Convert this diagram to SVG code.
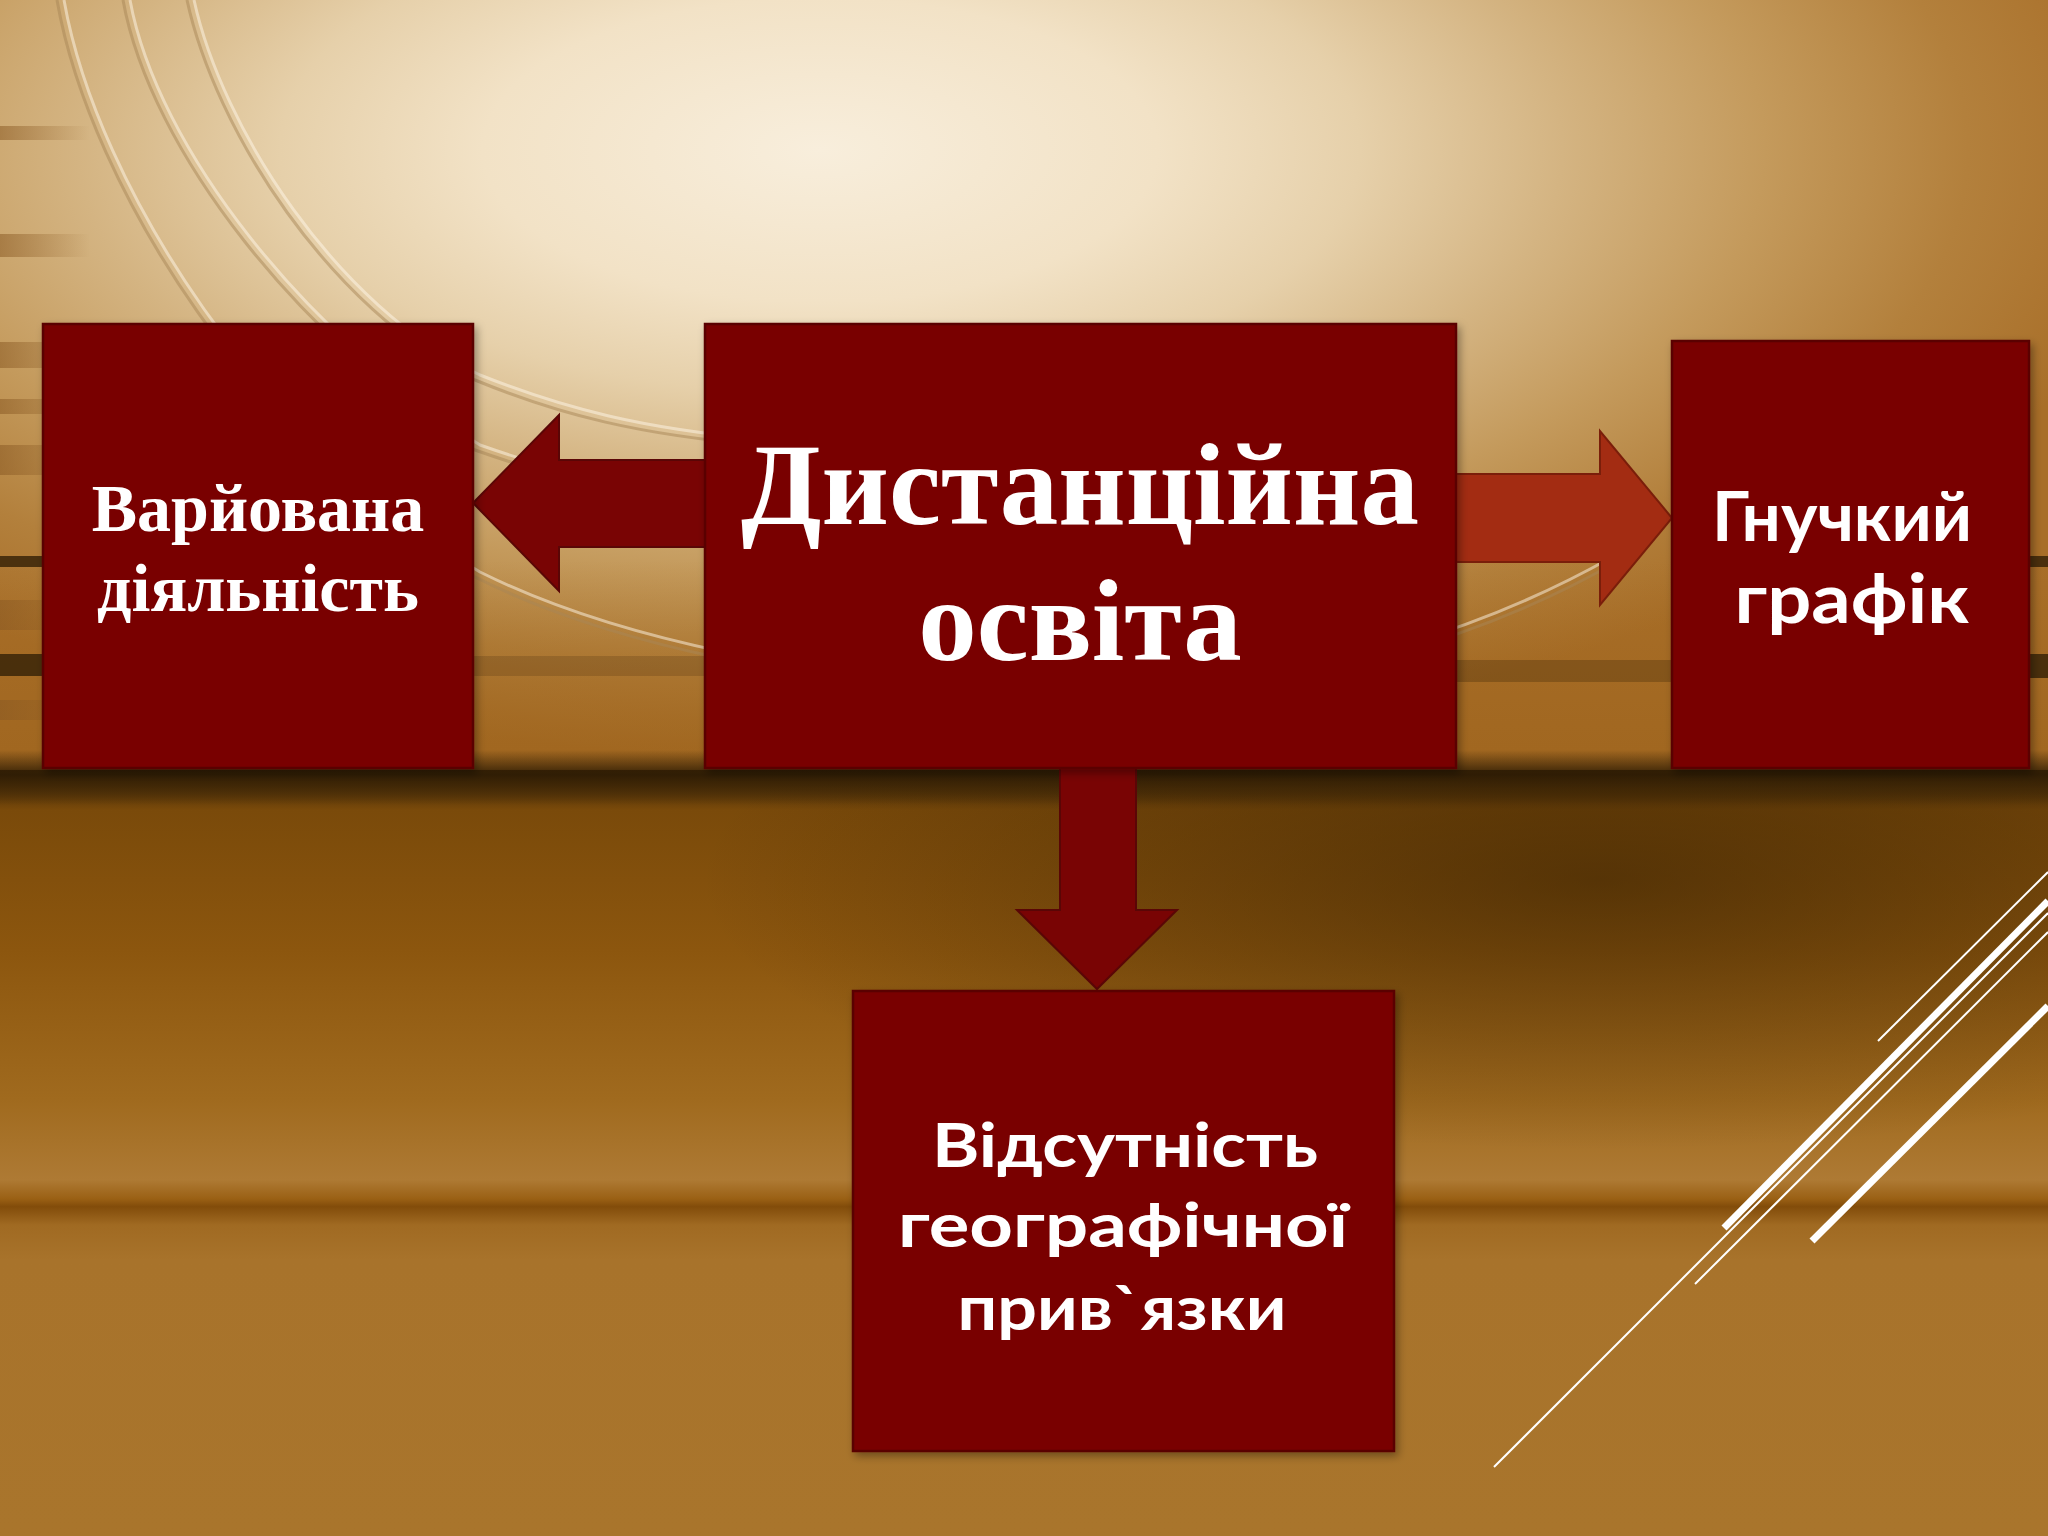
<svg xmlns="http://www.w3.org/2000/svg" width="2048" height="1536" viewBox="0 0 2048 1536">
<defs>
<style>
.box{fill:#790404;stroke:#5a0606;stroke-width:2.5}
.arrowDark{fill:#790404;stroke:#5a0606;stroke-width:2}
.arrowLight{fill:#a32c12;stroke:#7a1e0a;stroke-width:2}
.serif{font-family:"Liberation Serif","Times New Roman",serif;font-weight:700;fill:#ffffff;text-anchor:middle}
.sans{font-family:"Lato","Open Sans","Liberation Sans",sans-serif;font-weight:700;fill:#ffffff;text-anchor:middle}
.groove{fill:none;stroke:#a88656;stroke-width:3;stroke-opacity:0.5}
.grooveLight{fill:none;stroke:#fff8ea;stroke-width:3;stroke-opacity:0.5}
.deco{stroke:#ffffff;stroke-linecap:butt}
.edge{fill:#3a2408}
</style>
<radialGradient id="topGrad" gradientUnits="userSpaceOnUse" cx="820" cy="150" r="1350" gradientTransform="translate(820 150) scale(1 0.45) translate(-820 -150)">
<stop offset="0" stop-color="#f8eedc"/>
<stop offset="0.25" stop-color="#f2e2c6"/>
<stop offset="0.4" stop-color="#e6d0aa"/>
<stop offset="0.55" stop-color="#d4b482"/>
<stop offset="0.7" stop-color="#c49a5c"/>
<stop offset="0.85" stop-color="#b3803c"/>
<stop offset="1" stop-color="#a86e28"/>
</radialGradient>
<linearGradient id="botGrad" gradientUnits="userSpaceOnUse" x1="0" y1="770" x2="0" y2="1536">
<stop offset="0" stop-color="#3e2606"/>
<stop offset="0.02" stop-color="#4a2e08"/>
<stop offset="0.052" stop-color="#7a4a0a"/>
<stop offset="0.235" stop-color="#8c560e"/>
<stop offset="0.43" stop-color="#a06a1e"/>
<stop offset="0.535" stop-color="#ae7a34"/>
<stop offset="0.56" stop-color="#9a6014"/>
<stop offset="0.57" stop-color="#824c0a"/>
<stop offset="0.594" stop-color="#a06a22"/>
<stop offset="0.64" stop-color="#a8732b"/>
<stop offset="1" stop-color="#a9752c"/>
</linearGradient>
<radialGradient id="darkRight" gradientUnits="userSpaceOnUse" cx="1600" cy="880" r="900" gradientTransform="translate(1600 880) scale(1 0.3) translate(-1600 -880)">
<stop offset="0" stop-color="#2a1800" stop-opacity="0.5"/>
<stop offset="1" stop-color="#2a1800" stop-opacity="0"/>
</radialGradient>
<linearGradient id="band" gradientUnits="userSpaceOnUse" x1="0" y1="750" x2="0" y2="805">
<stop offset="0" stop-color="#2e1c04" stop-opacity="0"/>
<stop offset="0.45" stop-color="#2e1c04" stop-opacity="0.9"/>
<stop offset="0.7" stop-color="#3e2606" stop-opacity="0.6"/>
<stop offset="1" stop-color="#3e2606" stop-opacity="0"/>
</linearGradient>
<linearGradient id="leftFade" gradientUnits="userSpaceOnUse" x1="0" y1="0" x2="90" y2="0">
<stop offset="0" stop-color="#8a5a24" stop-opacity="0.55"/>
<stop offset="1" stop-color="#8a5a24" stop-opacity="0"/>
</linearGradient>
<linearGradient id="lowerWarm" gradientUnits="userSpaceOnUse" x1="0" y1="560" x2="0" y2="770">
<stop offset="0" stop-color="#9a6018" stop-opacity="0"/>
<stop offset="1" stop-color="#9a6018" stop-opacity="0.55"/>
</linearGradient>
<filter id="shadow" x="-5%" y="-5%" width="115%" height="115%">
<feDropShadow dx="3" dy="4" stdDeviation="4" flood-color="#000000" flood-opacity="0.35"/>
</filter>
</defs>

<g id="background">
<rect x="0" y="0" width="2048" height="780" fill="url(#topGrad)"/>
<rect x="0" y="560" width="2048" height="215" fill="url(#lowerWarm)"/>
<rect x="0" y="770" width="2048" height="766" fill="url(#botGrad)"/>
<rect x="0" y="770" width="2048" height="500" fill="url(#darkRight)"/>
<g id="wood-stripes">
<rect x="0" y="126" width="90" height="14" fill="url(#leftFade)"/>
<rect x="0" y="234" width="90" height="23" fill="url(#leftFade)"/>
<rect x="0" y="342" width="90" height="26" fill="url(#leftFade)"/>
<rect x="0" y="399" width="90" height="15" fill="url(#leftFade)"/>
<rect x="0" y="445" width="90" height="30" fill="url(#leftFade)"/>
<rect x="0" y="600" width="90" height="30" fill="url(#leftFade)"/>
<rect x="0" y="700" width="90" height="20" fill="url(#leftFade)"/>
<rect class="edge" x="0" y="556" width="46" height="11" opacity="0.85"/>
<rect class="edge" x="0" y="654" width="46" height="22" opacity="0.85"/>
<rect class="edge" x="2026" y="556" width="22" height="11" opacity="0.85"/>
<rect class="edge" x="2026" y="654" width="22" height="24" opacity="0.85"/>
<rect class="edge" x="470" y="656" width="240" height="20" opacity="0.2"/>
<rect class="edge" x="1452" y="660" width="224" height="22" opacity="0.3"/>
</g>
<g id="arcs">
<path class="groove" d="M 57 0 C 90 190 260 450 475 577 C 600 640 800 690 1080 695 C 1300 695 1480 640 1620 560"/>
<path class="grooveLight" d="M 64 0 C 97 188 266 446 480 572 C 605 634 805 684 1080 689 C 1300 689 1476 634 1614 556"/>
<path class="groove" d="M 123 0 C 150 150 300 340 475 450 C 560 480 640 500 760 510"/>
<path class="grooveLight" d="M 130 0 C 157 148 306 336 480 445 C 565 475 645 494 760 504"/>
<path class="groove" d="M 187 0 C 215 130 330 310 475 380 C 560 415 640 435 760 445"/>
<path class="grooveLight" d="M 194 0 C 222 128 336 306 480 375 C 565 409 645 429 760 439"/>
</g>
<rect x="0" y="750" width="2048" height="55" fill="url(#band)"/>
<g id="diagonal-lines">
<line class="deco" x1="2048" y1="872" x2="1878" y2="1041" stroke-width="2"/>
<line class="deco" x1="2048" y1="901" x2="1724" y2="1228" stroke-width="7"/>
<line class="deco" x1="2048" y1="913" x2="1494" y2="1467" stroke-width="2"/>
<line class="deco" x1="2048" y1="932" x2="1695" y2="1284" stroke-width="2"/>
<line class="deco" x1="2048" y1="1006" x2="1812" y2="1241" stroke-width="7"/>
</g>
</g>

<g id="connectors">
<polygon id="arrow-left" class="arrowDark" points="473,503 559,415 559,460 705,460 705,547 559,547 559,591"/>
<polygon id="arrow-right" class="arrowLight" points="1456,474 1600,474 1600,431 1672,518 1600,605 1600,562 1456,562"/>
<polygon id="arrow-down" class="arrowDark" points="1060,768 1136,768 1136,910 1177,910 1097,989 1017,910 1060,910"/>
</g>

<g id="node-variovana" filter="url(#shadow)">
<rect class="box" x="43" y="324" width="430" height="444"/>
<text class="serif" x="258" y="531" font-size="68">Варйована</text>
<text class="serif" x="258" y="611" font-size="68">діяльність</text>
</g>

<g id="node-dystantsiyna" filter="url(#shadow)">
<rect class="box" x="705" y="324" width="751" height="444"/>
<text class="serif" x="1080" y="524" font-size="117">Дистанційна</text>
<text class="serif" x="1080" y="660" font-size="117">освіта</text>
</g>

<g id="node-hnuchkyi" filter="url(#shadow)">
<rect class="box" x="1672" y="341" width="357" height="427"/>
<text class="sans" x="1842" y="541" font-size="68" textLength="260" lengthAdjust="spacingAndGlyphs">Гнучкий</text>
<text class="sans" x="1852" y="623" font-size="68" textLength="235" lengthAdjust="spacingAndGlyphs">графік</text>
</g>

<g id="node-vidsutnist" filter="url(#shadow)">
<rect class="box" x="853" y="991" width="541" height="460"/>
<text class="sans" x="1125" y="1167" font-size="62" textLength="386" lengthAdjust="spacingAndGlyphs">Відсутність</text>
<text class="sans" x="1123" y="1247" font-size="62" textLength="450" lengthAdjust="spacingAndGlyphs">географічної</text>
<text class="sans" x="1122" y="1330" font-size="62" textLength="329" lengthAdjust="spacingAndGlyphs">прив`язки</text>
</g>
</svg>
